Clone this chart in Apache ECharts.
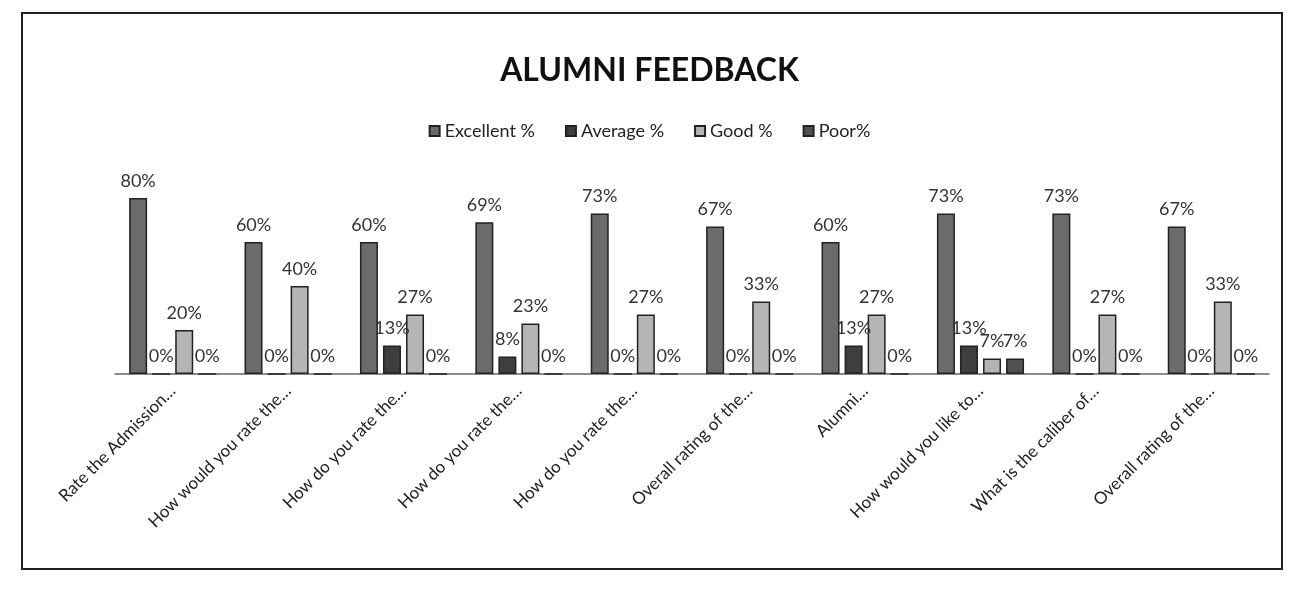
<!DOCTYPE html>
<html>
<head>
<meta charset="utf-8">
<script src="https://cdn.jsdelivr.net/npm/echarts@6/dist/echarts.min.js"></script>
<style>
  html, body { margin: 0; padding: 0; background: #fff; }
  #chart { width: 1299px; height: 594px; }
</style>
</head>
<body>
<div id="chart"></div>
<script>
// 题目（横轴类目）
const questions = [
  'Rate the Admission…',
  'How would you rate the…',
  'How do you rate the…',
  'How do you rate the…',
  'How do you rate the…',
  'Overall rating of the…',
  'Alumni…',
  'How would you like to…',
  'What is the caliber of…',
  'Overall rating of the…'
]
// 各评价百分比
const excellent = [80, 60, 60, 69, 73, 67, 60, 73, 73, 67]
const average = [0, 0, 13, 8, 0, 0, 13, 13, 0, 0]
const good = [20, 40, 27, 23, 27, 33, 27, 7, 27, 33]
const poor = [0, 0, 0, 0, 0, 0, 0, 7, 0, 0]

const font = 'Lato, "Open Sans", sans-serif'

let myChart = echarts.init(document.getElementById('chart'))

let makeSeries = (name, data, color) => ({
  name: name,
  type: 'bar',
  data: data,
  barWidth: 18,
  barGap: '28%',
  itemStyle: {
    color: color,
    borderColor: '#222',
    borderWidth: 1.5
  },
  label: {
    show: true,
    position: 'top',
    distance: 8,
    formatter: '{c}%',
    color: '#333',
    fontSize: 18,
    fontFamily: font
  }
})

let option = {
  animation: false,
  // 外框
  graphic: [{
    type: 'rect',
    shape: { x: 22, y: 13, width: 1260, height: 556 },
    style: { fill: 'none', stroke: '#222', lineWidth: 2 }
  }],
  title: {
    text: 'ALUMNI FEEDBACK',
    left: 'center',
    top: 50,
    textStyle: {
      fontFamily: font,
      fontSize: 32,
      fontWeight: 'bold',
      color: '#111'
    }
  },
  legend: {
    top: 117,
    left: 'center',
    itemWidth: 10,
    itemHeight: 10,
    itemGap: 30,
    icon: 'rect',
    textStyle: {
      fontFamily: font,
      fontSize: 18,
      color: '#222'
    }
  },
  grid: {
    left: 115,
    right: 30,
    top: 154,
    bottom: 220
  },
  xAxis: {
    type: 'category',
    data: questions,
    axisTick: { show: false },
    axisLine: { lineStyle: { color: '#666', width: 1.5 } },
    axisLabel: {
      rotate: 45,
      interval: 0,
      margin: 14,
      color: '#222',
      fontSize: 17,
      fontFamily: font
    }
  },
  yAxis: {
    type: 'value',
    min: 0,
    max: 100,
    show: false,
    splitLine: { show: false }
  },
  series: [
    makeSeries('Excellent %', excellent, '#6b6b6b'),
    makeSeries('Average %', average, '#3e3e3e'),
    makeSeries('Good %', good, '#b5b5b5'),
    makeSeries('Poor%', poor, '#505050')
  ]
}
myChart.setOption(option)
</script>
</body>
</html>
